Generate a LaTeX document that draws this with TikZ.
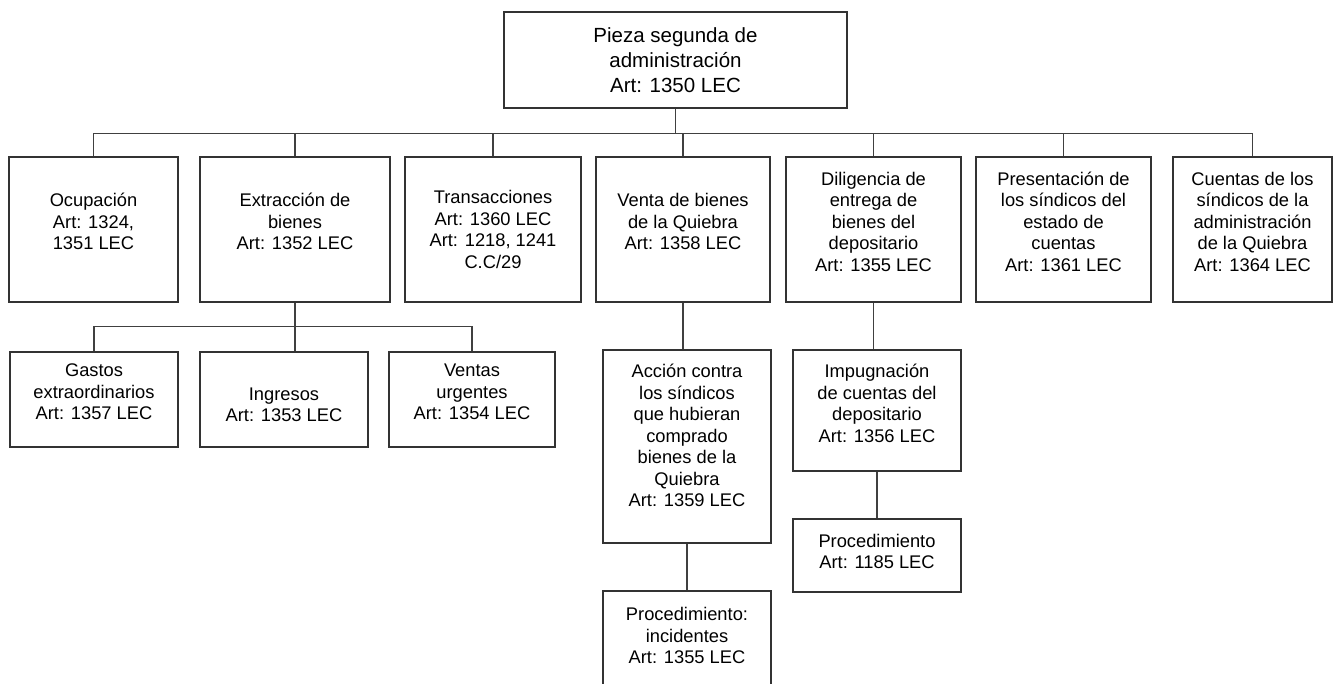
\documentclass[tikz,border=0pt]{standalone}
\usepackage{fontspec}
\setmainfont{Liberation Sans}
\usepackage{tikz}

\begin{document}
\begin{tikzpicture}[
		x=1pt, y=-1pt,
		box/.style={draw=black!80, line width=1.1pt, align=center, inner sep=2pt,
			font=\fontsize{18.3}{21.5}\selectfont,
			execute at end node={\rule[-#1]{0pt}{#1}}},
		box/.default=16pt,
		lvl/.style={box=#1, minimum height=145pt},
		lvl/.default=16pt,
		sub/.style={box=#1, minimum height=95pt},
		sub/.default=15pt,
		link/.style={draw=black!75, line width=1.1pt}
		]
		\useasboundingbox (0,0) rectangle (1333,683);
		
		% Root
		\node[box=0pt, minimum width=343pt, minimum height=96pt,
			font=\fontsize{20.5}{25}\selectfont] (top) at (675.5,60)
			{Pieza segunda de\\administración\\Art: 1350 LEC};
		
		% First level
		\node[lvl, minimum width=169pt] (ocup) at (93.5,229.5) {Ocupación\\Art: 1324,\\1351 LEC};
		\node[lvl, minimum width=190pt] (extr) at (295,229.5) {Extracción de\\bienes\\Art: 1352 LEC};
		\node[lvl=0pt, minimum width=176pt] (trans) at (493,229.5) {Transacciones\\Art: 1360 LEC\\Art: 1218, 1241\\C.C/29};
		\node[lvl, minimum width=174pt] (venta) at (683,229.5) {Venta de bienes\\de la Quiebra\\Art: 1358 LEC};
		\node[lvl, minimum width=175pt] (dilig) at (873.5,229.5) {Diligencia de\\entrega de\\bienes del\\depositario\\Art: 1355 LEC};
		\node[lvl, minimum width=175pt] (pres) at (1063.5,229.5) {Presentación de\\los síndicos del\\estado de\\cuentas\\Art: 1361 LEC};
		\node[lvl, minimum width=159pt] (cuen) at (1252.5,229.5) {Cuentas de los\\síndicos de la\\administración\\de la Quiebra\\Art: 1364 LEC};
		
		% Under Extraccion
		\node[sub, minimum width=168pt] (gastos) at (94,399.5) {Gastos\\extraordinarios\\Art: 1357 LEC};
		\node[sub=0pt, minimum width=168pt] (ingr) at (284,399.5) {\rule{0pt}{23pt}Ingresos\\Art: 1353 LEC};
		\node[sub, minimum width=166pt] (ventas) at (472,399.5) {Ventas\\urgentes\\Art: 1354 LEC};
		
		% Under Venta and Diligencia
		\node[box=22pt, minimum width=168pt, minimum height=193pt] (accion) at (687,446.5)
			{Acción contra\\los síndicos\\que hubieran\\comprado\\bienes de la\\Quiebra\\Art: 1359 LEC};
		\node[box, minimum width=168pt, minimum height=105pt] (incid) at (687,643.5)
			{Procedimiento:\\incidentes\\Art: 1355 LEC};
		\node[box=14pt, minimum width=168pt, minimum height=121pt] (impug) at (877,410.5)
			{Impugnación\\de cuentas del\\depositario\\Art: 1356 LEC};
		\node[box=8pt, minimum width=168pt, minimum height=73pt] (proced) at (877,555.5)
			{Procedimiento\\Art: 1185 LEC};
		
		% Connectors
		\foreach \n in {ocup,extr,trans,venta,dilig,pres,cuen}
			\draw[link] (top.south) -- ++(0,25) -| (\n.north);
		\foreach \n in {gastos,ventas}
			\draw[link] (extr.south) -- ++(0,24) -| (\n.north);
		\draw[link] (extr.south) -- (extr.south |- ingr.north);
		\draw[link] (venta.south) -- (venta.south |- accion.north);
		\draw[link] (accion.south) -- (incid.north);
		\draw[link] (dilig.south) -- (dilig.south |- impug.north);
		\draw[link] (impug.south) -- (proced.north);
		
	\end{tikzpicture}
\end{document}
